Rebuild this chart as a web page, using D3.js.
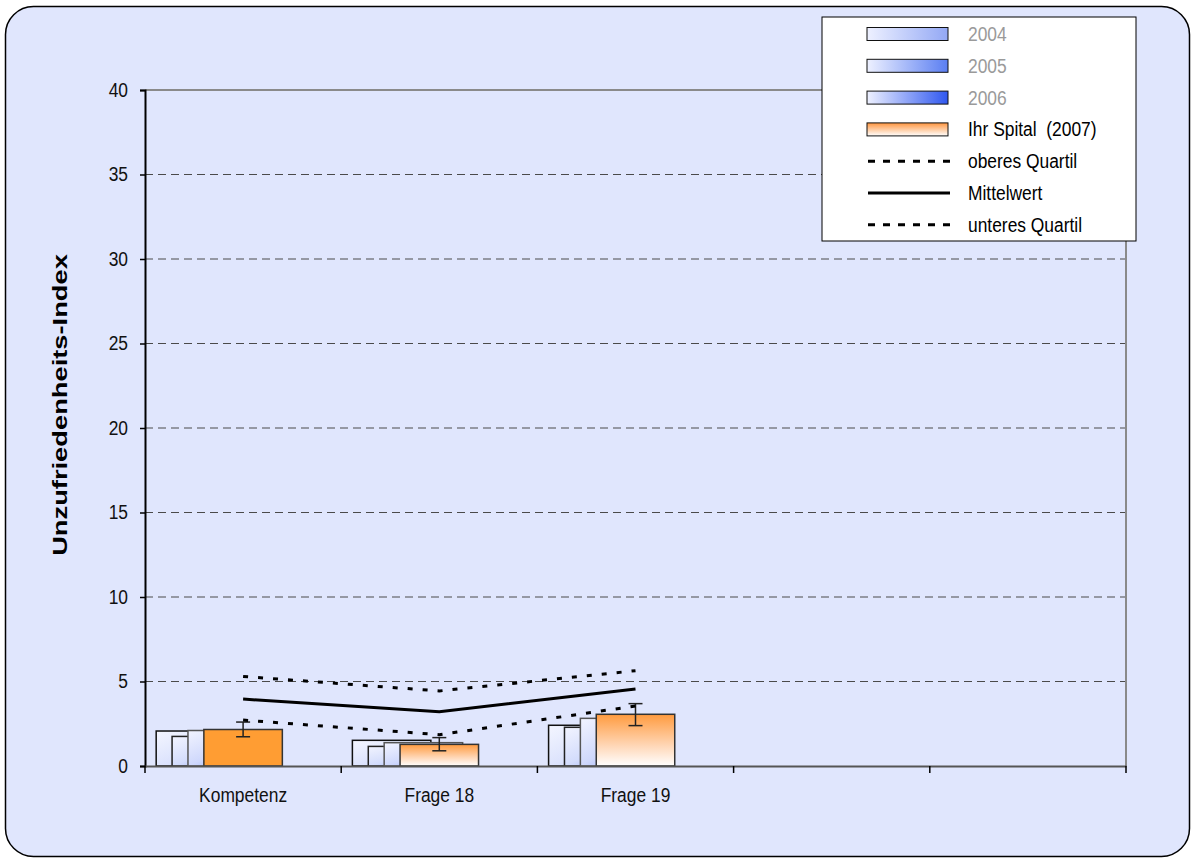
<!DOCTYPE html>
<html>
<head>
<meta charset="utf-8">
<script src="https://cdn.jsdelivr.net/npm/d3@7"></script>
<style>
  body { margin: 0; background: #fff; }
  text { font-family: "Liberation Sans", Arial, sans-serif; white-space: pre; }
</style>
</head>
<body>
<div id="chart"></div>
<script>
// categories (last two slots are empty in the original)
var categories = ["Kompetenz", "Frage 18", "Frage 19", "", ""];
var yTicks = [0, 5, 10, 15, 20, 25, 30, 35, 40];

// bar series
var values2004 = [2.07, 1.52, 2.41];
var values2005 = [1.75, 1.16, 2.29];
var values2006 = [2.10, 1.38, 2.82];
var valuesSpital = [2.16, 1.28, 3.06];

// error bar of "Ihr Spital"
var errLow = [1.73, 0.90, 2.39];
var errHigh = [2.60, 1.68, 3.69];

// lines
var upperQuartile = [5.30, 4.44, 5.64];
var meanValues = [3.96, 3.21, 4.56];
var lowerQuartile = [2.72, 1.85, 3.55];

var W = 1191, H = 859;
var margin = {top: 90, right: 65, bottom: 93, left: 145},
    width = W - margin.left - margin.right,
    height = H - margin.top - margin.bottom;

// text is narrower than the normal face in the original
var narrow = 0.87;

var svg = d3.select("#chart").append("svg")
    .attr("width", W)
    .attr("height", H);

var defs = svg.append("defs");

function linGrad(id, x2, y2, stops) {
    var g = defs.append("linearGradient").attr("id", id)
        .attr("x1", 0).attr("y1", 0).attr("x2", x2).attr("y2", y2);
    stops.forEach(function (s) {
        g.append("stop").attr("offset", s[0]).attr("stop-color", s[1]);
    });
}
// chart bars: diagonal light -> blue
linGrad("b2004", 1, 1, [[0, "#f4f6ff"], [0.55, "#dbe2fd"], [1, "#98aaf5"]]);
linGrad("b2005", 1, 1, [[0, "#f2f4ff"], [0.5, "#d3dcfc"], [1, "#7d93f1"]]);
linGrad("b2006", 1, 1, [[0, "#f2f4ff"], [0.5, "#cfd8fc"], [1, "#7890f1"]]);
linGrad("bSpital", 0, 1, [[0, "#ff9b3f"], [0.6, "#ffd6b5"], [1, "#ffffff"]]);
// legend swatches: horizontal
linGrad("l2004", 1, 0, [[0, "#eef1ff"], [1, "#93a8f5"]]);
linGrad("l2005", 1, 0, [[0, "#eef1ff"], [1, "#5a7ef2"]]);
linGrad("l2006", 1, 0, [[0, "#eef1ff"], [1, "#2f57ef"]]);
linGrad("lSpital", 0, 1, [[0, "#ff9640"], [1, "#ffffff"]]);

// outer frame
svg.append("rect")
    .attr("x", 5.5).attr("y", 6.5)
    .attr("width", 1184).attr("height", 850)
    .attr("rx", 28).attr("ry", 28)
    .attr("fill", "#e0e6fd")
    .attr("stroke", "#000")
    .attr("stroke-width", 1.5);

var g = svg.append("g")
    .attr("transform", "translate(" + margin.left + "," + margin.top + ")");

var xScale = d3.scaleBand()
    .domain(d3.range(categories.length))
    .range([0, width]);

var yScale = d3.scaleLinear()
    .domain([0, 40])
    .range([height, 0]);

var bw = xScale.bandwidth();
var barWidth = bw * 0.4;
var seriesOffset = d3.scaleLinear().domain([0, 3]).range([-3 * bw * 0.081, 0]);

// gridlines
g.selectAll(".grid")
    .data(yTicks.filter(function (d) { return d > 0 && d < 40; }))
    .enter().append("line")
    .attr("x1", 0).attr("x2", width)
    .attr("y1", function (d) { return yScale(d); })
    .attr("y2", function (d) { return yScale(d); })
    .attr("stroke", "#4a4a4a")
    .attr("stroke-width", 1)
    .attr("stroke-dasharray", "8,5");

// plot area border top / right
g.append("path")
    .attr("d", "M0," + yScale(40) + "H" + width + "V" + yScale(0))
    .attr("fill", "none")
    .attr("stroke", "#8a8a8a")
    .attr("stroke-width", 2);

// bars
var series = [
    {vals: values2004, fill: "url(#b2004)", stroke: "#111"},
    {vals: values2005, fill: "url(#b2005)", stroke: "#222"},
    {vals: values2006, fill: "url(#b2006)", stroke: "#555"},
    {vals: valuesSpital, fill: "url(#bSpital)", stroke: "#333"}
];

series.forEach(function (s, si) {
    g.selectAll(".bar" + si)
        .data(s.vals)
        .enter().append("rect")
        .attr("x", function (d, i) {
            return xScale(i) + bw / 2 - barWidth / 2 + seriesOffset(si);
        })
        .attr("y", function (d) { return yScale(d); })
        .attr("width", barWidth)
        .attr("height", function (d) { return height - yScale(d); })
        .attr("fill", function (d, i) {
            // Kompetenz bar of Ihr Spital is solid orange
            return (si === 3 && i === 0) ? "#ff9d33" : s.fill;
        })
        .attr("stroke", s.stroke)
        .attr("stroke-width", 1.5);
});

// error bars
var errG = g.selectAll(".err")
    .data(errLow)
    .enter().append("g")
    .attr("stroke", "#222")
    .attr("stroke-width", 1.5);
errG.append("line")
    .attr("x1", function (d, i) { return xScale(i) + bw / 2; })
    .attr("x2", function (d, i) { return xScale(i) + bw / 2; })
    .attr("y1", function (d) { return yScale(d); })
    .attr("y2", function (d, i) { return yScale(errHigh[i]); });
errG.append("line")
    .attr("x1", function (d, i) { return xScale(i) + bw / 2 - 7; })
    .attr("x2", function (d, i) { return xScale(i) + bw / 2 + 7; })
    .attr("y1", function (d) { return yScale(d); })
    .attr("y2", function (d) { return yScale(d); });
errG.append("line")
    .attr("x1", function (d, i) { return xScale(i) + bw / 2 - 7; })
    .attr("x2", function (d, i) { return xScale(i) + bw / 2 + 7; })
    .attr("y1", function (d, i) { return yScale(errHigh[i]); })
    .attr("y2", function (d, i) { return yScale(errHigh[i]); });

// lines
var line = d3.line()
    .x(function (d, i) { return xScale(i) + bw / 2; })
    .y(function (d) { return yScale(d); });

[[upperQuartile, "5,10"], [meanValues, null], [lowerQuartile, "5,10"]].forEach(function (l) {
    g.append("path")
        .datum(l[0])
        .attr("d", line)
        .attr("fill", "none")
        .attr("stroke", "#000")
        .attr("stroke-width", 3)
        .attr("stroke-dasharray", l[1]);
});

// axes
var yAxis = d3.axisLeft(yScale).tickValues(yTicks).tickSize(5).tickPadding(12);
var yAx = g.append("g").call(yAxis);
yAx.select(".domain").attr("stroke", "#000").attr("stroke-width", 2);
yAx.selectAll(".tick line").attr("stroke", "#000").attr("stroke-width", 1.5);
yAx.selectAll("text")
    .attr("font-size", 20).attr("fill", "#111")
    .attr("font-family", "'Liberation Sans', Arial, sans-serif")
    .attr("x", 0)
    .attr("transform", "translate(-17,0) scale(" + narrow + ",1)");

var xAxis = d3.axisBottom(xScale)
    .tickFormat(function (i) { return categories[i]; })
    .tickSize(0).tickPadding(22);
var xAx = g.append("g")
    .attr("transform", "translate(0," + height + ")")
    .call(xAxis);
xAx.select(".domain").attr("stroke", "#555").attr("stroke-width", 2);
xAx.selectAll("text")
    .attr("font-size", 20).attr("fill", "#111")
    .attr("font-family", "'Liberation Sans', Arial, sans-serif")
    .attr("transform", "scale(" + narrow + ",1)");

// category boundary ticks
g.selectAll(".xtick")
    .data(d3.range(categories.length + 1))
    .enter().append("line")
    .attr("x1", function (i) { return i * bw; })
    .attr("x2", function (i) { return i * bw; })
    .attr("y1", height).attr("y2", height + 7)
    .attr("stroke", "#000").attr("stroke-width", 1.5);

// y title
svg.append("text")
    .attr("transform", "translate(67,405) rotate(-90) scale(1.3,1)")
    .attr("text-anchor", "middle")
    .attr("font-size", 21)
    .attr("font-weight", "bold")
    .attr("font-family", "'Liberation Sans', Arial, sans-serif")
    .text("Unzufriedenheits-Index");

// legend
var legendItems = [
    {label: "2004", type: "rect", fill: "url(#l2004)", color: "#9a9a9a"},
    {label: "2005", type: "rect", fill: "url(#l2005)", color: "#9a9a9a"},
    {label: "2006", type: "rect", fill: "url(#l2006)", color: "#9a9a9a"},
    {label: "Ihr Spital  (2007)", type: "rect", fill: "url(#lSpital)", color: "#000"},
    {label: "oberes Quartil", type: "line", dash: "7,8", color: "#000"},
    {label: "Mittelwert", type: "line", dash: null, color: "#000"},
    {label: "unteres Quartil", type: "line", dash: "7,8", color: "#000"}
];

var legend = svg.append("g").attr("transform", "translate(822,17)");
legend.append("rect")
    .attr("width", 314).attr("height", 224)
    .attr("fill", "#fff")
    .attr("stroke", "#000").attr("stroke-width", 1);

var li = legend.selectAll(".li")
    .data(legendItems)
    .enter().append("g")
    .attr("transform", function (d, i) { return "translate(0," + (17 + i * 31.8) + ")"; });

li.filter(function (d) { return d.type === "rect"; })
    .append("rect")
    .attr("x", 45).attr("y", -6.5)
    .attr("width", 81).attr("height", 13)
    .attr("fill", function (d) { return d.fill; })
    .attr("stroke", "#111").attr("stroke-width", 1);

li.filter(function (d) { return d.type === "line"; })
    .append("line")
    .attr("x1", 46).attr("x2", 128)
    .attr("stroke", "#000").attr("stroke-width", 3)
    .attr("stroke-dasharray", function (d) { return d.dash; });

li.append("text")
    .attr("transform", "translate(146,0) scale(" + narrow + ",1)")
    .attr("dy", "0.35em")
    .attr("font-size", 20)
    .attr("fill", function (d) { return d.color; })
    .text(function (d) { return d.label; });
</script>
</body>
</html>
